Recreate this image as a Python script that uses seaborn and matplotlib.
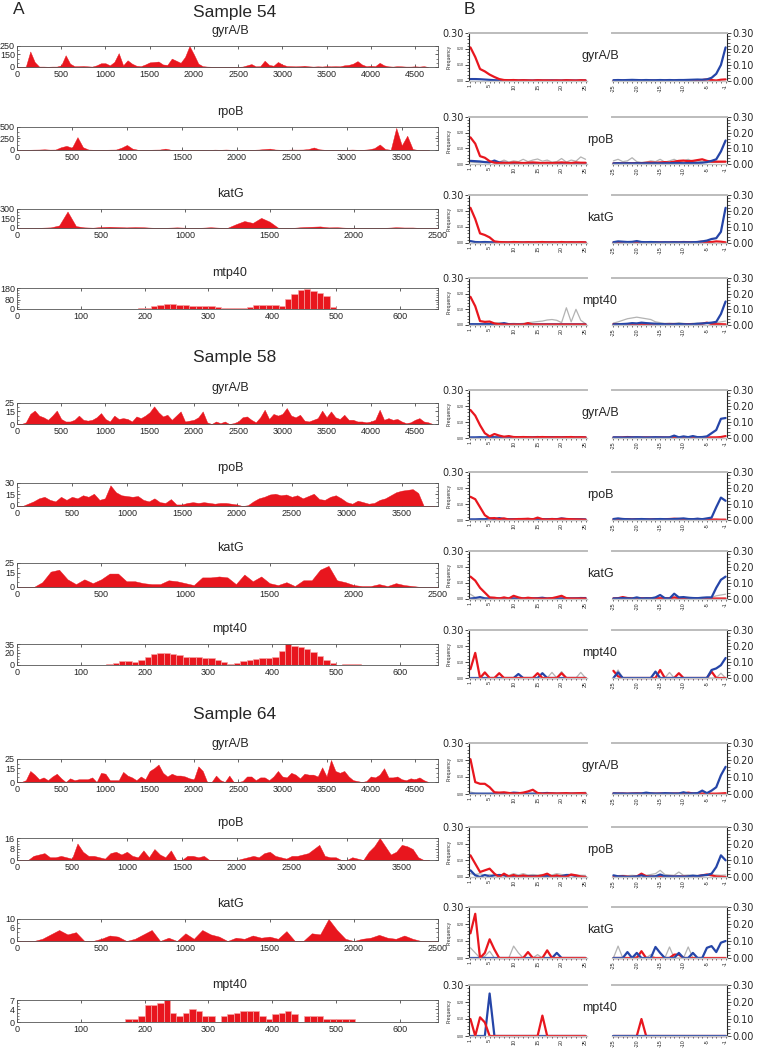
import numpy as np
import pandas as pd
import matplotlib
matplotlib.use('Agg')
import matplotlib.pyplot as plt
from matplotlib.ticker import MultipleLocator
import seaborn as sns

sns.set_style('ticks')
plt.rcParams['font.family'] = ['Liberation Sans', 'DejaVu Sans']

RED = '#e8161e'
BLUE = '#2545a8'
GREY = '#b3b3b3'
W, H = 757, 1050

# ---------------- panel A: read coverage ----------------
# long genes: one value per 50 bp from position 0; mpt40: one bar per 10 bp from *_start
COV_STEP = 50
MPT_STEP = 10

s54_gyr = [0, 0, 5, 185, 60, 5, 5, 3, 5, 5, 20, 140, 40, 10, 10, 12, 8, 5, 20, 45, 45, 20, 60, 165, 20, 80,
           40, 15, 10, 30, 55, 60, 65, 30, 25, 100, 75, 50, 120, 250, 150, 40, 10, 5, 3, 2, 2, 2, 3, 2, 2, 5,
           20, 35, 8, 10, 75, 25, 15, 60, 30, 12, 10, 8, 10, 15, 8, 5, 8, 6, 10, 8, 10, 8, 20, 25, 40, 70, 30,
           10, 15, 10, 50, 20, 8, 5, 10, 8, 5, 5, 8, 5, 10, 0]
s54_rpo = [0, 0, 5, 8, 10, 15, 8, 10, 60, 90, 50, 280, 60, 10, 5, 5, 5, 8, 10, 50, 110, 30, 5, 5, 5, 8, 10,
           30, 5, 5, 3, 3, 5, 5, 5, 3, 8, 5, 10, 5, 3, 3, 5, 5, 10, 20, 30, 10, 5, 5, 10, 8, 10, 20, 55, 15,
           5, 5, 3, 5, 5, 10, 5, 5, 15, 40, 120, 20, 5, 480, 100, 310, 20, 0, 0, 0]
s54_kat = [0, 0, 0, 5, 10, 40, 260, 30, 10, 5, 15, 20, 15, 10, 15, 12, 5, 3, 5, 10, 5, 3, 5, 12, 5, 3, 60,
           110, 80, 160, 100, 5, 3, 5, 15, 20, 25, 10, 12, 5, 3, 3, 3, 3, 5, 12, 8, 8, 0, 0, 0]
s54_mpt_start = 140
s54_mpt = [0, 2, 3, 3, 4, 5, 12, 25, 35, 40, 40, 35, 32, 30, 28, 25, 22, 18, 10, 5, 5, 10, 20, 32, 38, 38,
           32, 30, 90, 130, 160, 175, 155, 135, 110, 20, 0]

s58_gyr = [0, 0, 2, 12, 16, 10, 8, 5, 10, 16, 6, 3, 3, 5, 10, 5, 4, 5, 8, 13, 6, 3, 10, 6, 7, 6, 3, 9, 7, 10,
           14, 21, 14, 9, 11, 5, 10, 15, 3, 4, 5, 8, 15, 2, 0, 3, 1, 3, 0, 1, 3, 8, 9, 5, 2, 8, 17, 6, 12, 10,
           12, 19, 10, 8, 11, 4, 3, 5, 7, 16, 8, 15, 8, 6, 11, 5, 5, 3, 3, 2, 3, 5, 17, 5, 7, 5, 6, 3, 1, 2,
           5, 7, 3, 2, 0]
s58_rpo = [0, 0, 3, 6, 10, 12, 8, 6, 12, 8, 12, 10, 14, 12, 16, 8, 10, 27, 18, 14, 13, 12, 13, 8, 6, 10, 5,
           4, 9, 2, 2, 4, 5, 4, 5, 4, 3, 4, 4, 3, 2, 0, 1, 6, 10, 12, 15, 16, 14, 15, 12, 14, 10, 13, 16, 9,
           8, 12, 14, 10, 5, 3, 7, 5, 3, 4, 8, 10, 14, 18, 20, 21, 22, 17, 0, 0, 0]
s58_kat = [0, 0, 0, 5, 16, 18, 8, 3, 8, 4, 8, 14, 14, 6, 6, 4, 3, 3, 7, 6, 4, 2, 10, 10, 11, 10, 3, 13, 6,
           11, 4, 2, 5, 1, 7, 7, 18, 22, 7, 5, 2, 1, 1, 3, 1, 4, 2, 1, 0, 0, 0]
s58_mpt_start = 130
s58_mpt = [0, 2, 4, 7, 6, 5, 8, 14, 18, 20, 20, 19, 17, 14, 14, 14, 12, 11, 9, 5, 2, 4, 6, 8, 10, 11, 12,
           14, 24, 35, 32, 30, 26, 22, 15, 8, 3, 0, 1, 1, 1, 0]

s64_gyr = [0, 0, 2, 12, 8, 3, 5, 2, 6, 9, 4, 0, 4, 2, 3, 3, 3, 5, 0, 10, 9, 2, 2, 2, 11, 7, 5, 2, 6, 3, 12,
           15, 19, 10, 6, 9, 7, 7, 6, 4, 3, 17, 12, 0, 0, 7, 2, 0, 7, 0, 0, 1, 6, 6, 2, 5, 5, 2, 6, 12, 6, 5,
           10, 8, 4, 9, 8, 8, 6, 16, 6, 24, 12, 10, 12, 6, 2, 1, 0, 1, 6, 5, 8, 15, 5, 5, 6, 3, 2, 4, 3, 5,
           2, 0]
s64_rpo = [0, 0, 0, 3, 4, 5, 2, 2, 3, 2, 1, 12, 6, 3, 3, 2, 1, 5, 6, 4, 6, 3, 2, 7, 2, 8, 4, 2, 7, 0, 0, 3,
           3, 2, 3, 0, 0, 0, 0, 0, 0, 1, 2, 3, 2, 5, 6, 3, 2, 1, 3, 3, 4, 5, 8, 11, 3, 2, 2, 0, 0, 2, 1, 0,
           6, 10, 16, 10, 4, 6, 11, 10, 8, 2, 0, 0]
s64_kat = [0, 0, 0, 1, 3, 5, 3, 4, 0, 0, 1, 2.5, 2, 0, 1, 3, 5, 0, 1.5, 0, 3.5, 1, 5, 3, 2, 0, 1.5, 1, 2.5,
           1.5, 2, 1, 4.5, 0, 0, 3.5, 3, 10, 5, 1, 0, 1, 1.5, 2.8, 1.5, 1, 2.5, 1, 0, 0, 0]
s64_mpt_start = 170
s64_mpt = [1, 1, 2, 5.5, 5.5, 6, 7, 3, 2, 3, 4, 3.5, 2, 2, 0, 2, 2.5, 3, 3.5, 3.5, 3.5, 2, 1, 2.5, 3, 3.5,
           2.5, 0, 1.8, 1.8, 1.8, 1, 1, 1, 1, 1]

# ---------------- panel B: misincorporation frequencies ----------------
# r = red, b = blue, g = grey; 5 = read positions 1..25, 3 = positions -25..-1
POS5 = list(range(1, 26))
POS3 = list(range(-25, 0))

s54_gyr_r5 = [0.21, 0.15, 0.075, 0.06, 0.04, 0.025, 0.012, 0.006, 0.005, 0.006, 0.004, 0.005, 0.004, 0.003,
              0.005, 0.004, 0.004, 0.003, 0.004, 0.003, 0.005, 0.004, 0.003, 0.005, 0.004]
s54_gyr_b5 = [0.012, 0.012, 0.011, 0.009, 0.007, 0.005, 0.004, 0.004, 0.003, 0.004, 0.003, 0.004, 0.003,
              0.003, 0.004, 0.003, 0.003, 0.004, 0.003, 0.003, 0.004, 0.003, 0.003, 0.003, 0.003]
s54_gyr_r3 = [0.002, 0.002, 0.003, 0.002, 0.002, 0.003, 0.002, 0.002, 0.003, 0.002, 0.002, 0.003, 0.002,
              0.003, 0.003, 0.004, 0.003, 0.004, 0.005, 0.006, 0.010, 0.006, 0.003, 0.008, 0.010]
s54_gyr_b3 = [0.005, 0.006, 0.005, 0.006, 0.007, 0.006, 0.005, 0.006, 0.005, 0.005, 0.006, 0.005, 0.006,
              0.005, 0.006, 0.006, 0.007, 0.008, 0.009, 0.008, 0.010, 0.020, 0.045, 0.10, 0.21]

s54_rpo_r5 = [0.17, 0.13, 0.05, 0.04, 0.018, 0.008, 0.006, 0.008, 0.006, 0.01, 0.008, 0.006, 0.008, 0.01,
              0.008, 0.006, 0.008, 0.006, 0.008, 0.01, 0.008, 0.006, 0.01, 0.008, 0.008]
s54_rpo_b5 = [0.02, 0.018, 0.016, 0.012, 0.01, 0.022, 0.01, 0.008, 0.006, 0.006, 0.005, 0.006, 0.005, 0.005,
              0.006, 0.005, 0.006, 0.005, 0.005, 0.006, 0.005, 0.006, 0.005, 0.005, 0.005]
s54_rpo_g5 = [0.012, 0.01, 0.008, 0.012, 0.01, 0.015, 0.012, 0.025, 0.012, 0.02, 0.015, 0.03, 0.015, 0.025,
              0.032, 0.018, 0.025, 0.012, 0.015, 0.035, 0.012, 0.025, 0.018, 0.045, 0.03]
s54_rpo_r3 = [0.004, 0.005, 0.004, 0.006, 0.005, 0.006, 0.005, 0.008, 0.01, 0.008, 0.01, 0.012, 0.01, 0.015,
              0.02, 0.022, 0.018, 0.02, 0.025, 0.03, 0.02, 0.015, 0.015, 0.015, 0.015]
s54_rpo_b3 = [0.004, 0.005, 0.004, 0.005, 0.004, 0.005, 0.004, 0.005, 0.004, 0.005, 0.004, 0.005, 0.005,
              0.006, 0.006, 0.005, 0.006, 0.006, 0.007, 0.008, 0.012, 0.02, 0.03, 0.08, 0.15]
s54_rpo_g3 = [0.02, 0.03, 0.015, 0.02, 0.04, 0.015, 0.01, 0.012, 0.02, 0.015, 0.03, 0.012, 0.02, 0.03, 0.015,
              0.02, 0.03, 0.015, 0.02, 0.015, 0.012, 0.01, 0.01, 0.012, 0.015]

s54_kat_r5 = [0.22, 0.15, 0.06, 0.05, 0.035, 0.01, 0.006, 0.005, 0.004, 0.006, 0.005, 0.004, 0.005, 0.004,
              0.005, 0.006, 0.004, 0.005, 0.004, 0.006, 0.004, 0.005, 0.004, 0.005, 0.004]
s54_kat_b5 = [0.012, 0.006, 0.005, 0.006, 0.005, 0.004, 0.004, 0.003, 0.003, 0.004, 0.003, 0.003, 0.004,
              0.003, 0.003, 0.003, 0.004, 0.003, 0.003, 0.003, 0.003, 0.003, 0.003, 0.003, 0.003]
s54_kat_r3 = [0.003, 0.003, 0.004, 0.003, 0.004, 0.005, 0.004, 0.003, 0.004, 0.005, 0.004, 0.003, 0.004,
              0.005, 0.004, 0.006, 0.005, 0.004, 0.006, 0.008, 0.005, 0.006, 0.01, 0.008, 0.004]
s54_kat_b3 = [0.005, 0.01, 0.008, 0.006, 0.007, 0.012, 0.006, 0.005, 0.006, 0.005, 0.004, 0.005, 0.004,
              0.005, 0.004, 0.005, 0.004, 0.005, 0.006, 0.01, 0.015, 0.025, 0.03, 0.07, 0.22]

s54_mpt_r5 = [0.18, 0.12, 0.025, 0.02, 0.022, 0.01, 0.005, 0.003, 0.003, 0.003, 0.003, 0.003, 0.012, 0.003,
              0.003, 0.003, 0.003, 0.003, 0.003, 0.003, 0.003, 0.003, 0.003, 0.003, 0.003]
s54_mpt_b5 = [0.005, 0.005, 0.005, 0.005, 0.006, 0.005, 0.006, 0.012, 0.005, 0.004, 0.004, 0.004, 0.004,
              0.004, 0.004, 0.004, 0.004, 0.004, 0.004, 0.004, 0.004, 0.004, 0.004, 0.004, 0.004]
s54_mpt_g5 = [0.008, 0.006, 0.008, 0.01, 0.008, 0.012, 0.015, 0.01, 0.008, 0.01, 0.008, 0.01, 0.015, 0.018,
              0.022, 0.025, 0.032, 0.035, 0.03, 0.015, 0.11, 0.02, 0.1, 0.03, 0.008]
s54_mpt_r3 = [0.006, 0.005, 0.006, 0.005, 0.004, 0.006, 0.005, 0.004, 0.005, 0.006, 0.005, 0.004, 0.005,
              0.006, 0.005, 0.004, 0.005, 0.006, 0.005, 0.008, 0.015, 0.006, 0.005, 0.005, 0.004]
s54_mpt_b3 = [0.004, 0.005, 0.006, 0.008, 0.012, 0.01, 0.015, 0.012, 0.01, 0.008, 0.006, 0.005, 0.004,
              0.005, 0.006, 0.005, 0.004, 0.005, 0.008, 0.01, 0.012, 0.015, 0.02, 0.07, 0.15]
s54_mpt_g3 = [0.012, 0.02, 0.03, 0.04, 0.045, 0.05, 0.045, 0.04, 0.035, 0.02, 0.015, 0.01, 0.012, 0.01,
              0.015, 0.01, 0.008, 0.01, 0.012, 0.008, 0.01, 0.012, 0.015, 0.02, 0.025]

s58_gyr_r5 = [0.175, 0.14, 0.08, 0.03, 0.01, 0.025, 0.015, 0.008, 0.012, 0.006, 0.005, 0.006, 0.005, 0.004,
              0.005, 0.006, 0.005, 0.004, 0.005, 0.004, 0.005, 0.006, 0.004, 0.005, 0.004]
s58_gyr_b5 = [0.004, 0.004, 0.005, 0.004, 0.006, 0.005, 0.004, 0.005, 0.004, 0.005, 0.004, 0.005, 0.004,
              0.004, 0.006, 0.004, 0.004, 0.005, 0.004, 0.004, 0.005, 0.004, 0.004, 0.004, 0.004]
s58_gyr_r3 = [0.003, 0.003, 0.004, 0.006, 0.004, 0.003, 0.003, 0.004, 0.003, 0.003, 0.004, 0.003, 0.003,
              0.004, 0.003, 0.003, 0.004, 0.003, 0.004, 0.003, 0.003, 0.004, 0.004, 0.006, 0.012]
s58_gyr_b3 = [0.004, 0.004, 0.003, 0.004, 0.004, 0.005, 0.004, 0.003, 0.004, 0.005, 0.004, 0.004, 0.004,
              0.015, 0.004, 0.01, 0.005, 0.012, 0.005, 0.006, 0.01, 0.03, 0.05, 0.12, 0.125]

s58_rpo_r5 = [0.145, 0.13, 0.08, 0.03, 0.01, 0.012, 0.006, 0.01, 0.003, 0.004, 0.006, 0.006, 0.008, 0.004,
              0.015, 0.005, 0.003, 0.006, 0.004, 0.008, 0.006, 0.005, 0.004, 0.003, 0.002]
s58_rpo_b5 = [0.004, 0.004, 0.005, 0.005, 0.01, 0.006, 0.012, 0.006, 0.005, 0.005, 0.005, 0.006, 0.005,
              0.005, 0.006, 0.005, 0.005, 0.006, 0.005, 0.01, 0.006, 0.005, 0.005, 0.005, 0.004]
s58_rpo_r3 = [0.004, 0.005, 0.006, 0.005, 0.004, 0.005, 0.004, 0.003, 0.004, 0.005, 0.004, 0.005, 0.006,
              0.008, 0.006, 0.005, 0.004, 0.005, 0.006, 0.005, 0.004, 0.003, 0.003, 0.002, 0.002]
s58_rpo_b3 = [0.006, 0.01, 0.006, 0.005, 0.004, 0.005, 0.006, 0.005, 0.004, 0.005, 0.006, 0.005, 0.005,
              0.006, 0.008, 0.01, 0.006, 0.005, 0.008, 0.005, 0.01, 0.015, 0.08, 0.14, 0.12]

s58_kat_r5 = [0.14, 0.115, 0.07, 0.04, 0.01, 0.008, 0.003, 0.01, 0.003, 0.02, 0.01, 0.003, 0.008, 0.004,
              0.003, 0.002, 0.003, 0.005, 0.012, 0.02, 0.005, 0.003, 0.003, 0.003, 0.003]
s58_kat_b5 = [0.003, 0.006, 0.012, 0.004, 0.003, 0.005, 0.004, 0.004, 0.003, 0.004, 0.003, 0.004, 0.003,
              0.004, 0.005, 0.008, 0.003, 0.004, 0.003, 0.004, 0.003, 0.004, 0.004, 0.005, 0.006]
s58_kat_g5 = [0.03, 0.01, 0.006, 0.005, 0.004, 0.005, 0.004, 0.004, 0.003, 0.004, 0.004, 0.003, 0.004,
              0.004, 0.003, 0.004, 0.004, 0.003, 0.004, 0.004, 0.003, 0.004, 0.006, 0.01, 0.008]
s58_kat_r3 = [0.004, 0.005, 0.012, 0.006, 0.004, 0.003, 0.005, 0.004, 0.005, 0.004, 0.005, 0.004, 0.005,
              0.01, 0.006, 0.005, 0.004, 0.005, 0.004, 0.003, 0.004, 0.003, 0.003, 0.003, 0.003]
s58_kat_b3 = [0.003, 0.004, 0.006, 0.004, 0.003, 0.01, 0.003, 0.005, 0.004, 0.01, 0.025, 0.005, 0.003,
              0.033, 0.01, 0.012, 0.008, 0.006, 0.005, 0.008, 0.01, 0.01, 0.07, 0.12, 0.14]
s58_kat_g3 = [0.004, 0.005, 0.004, 0.005, 0.004, 0.005, 0.004, 0.005, 0.004, 0.005, 0.004, 0.005, 0.004,
              0.006, 0.005, 0.008, 0.01, 0.006, 0.005, 0.006, 0.008, 0.01, 0.02, 0.025, 0.03]

s58_mpt_r5 = [0.055, 0.157, 0.0, 0.035, 0.0, 0.0, 0.03, 0.0, 0.0, 0.0, 0.0, 0.0, 0.0, 0.0, 0.03, 0.0, 0.0,
              0.0, 0.0, 0.03, 0.0, 0.0, 0.0, 0.0, 0.0]
s58_mpt_b5 = [0.0, 0.0, 0.0, 0.0, 0.0, 0.0, 0.0, 0.0, 0.0, 0.0, 0.025, 0.0, 0.0, 0.0, 0.0, 0.03, 0.0, 0.0,
              0.0, 0.0, 0.0, 0.0, 0.0, 0.0, 0.0]
s58_mpt_g5 = [0.0, 0.0, 0.0, 0.03, 0.0, 0.0, 0.0, 0.0, 0.0, 0.0, 0.0, 0.0, 0.0, 0.0, 0.0, 0.0, 0.0, 0.035,
              0.0, 0.04, 0.0, 0.0, 0.0, 0.035, 0.0]
s58_mpt_r3 = [0.045, 0.01, 0.0, 0.0, 0.0, 0.0, 0.0, 0.0, 0.0, 0.0, 0.05, 0.0, 0.0, 0.0, 0.03, 0.0, 0.0, 0.0,
              0.0, 0.0, 0.0, 0.04, 0.0, 0.0, 0.0]
s58_mpt_b3 = [0.0, 0.035, 0.0, 0.0, 0.0, 0.0, 0.0, 0.0, 0.0, 0.04, 0.0, 0.0, 0.0, 0.0, 0.0, 0.0, 0.0, 0.0,
              0.0, 0.0, 0.0, 0.05, 0.06, 0.08, 0.125]
s58_mpt_g3 = [0.0, 0.05, 0.0, 0.0, 0.0, 0.0, 0.0, 0.0, 0.0, 0.0, 0.0, 0.0, 0.035, 0.0, 0.0, 0.0, 0.0, 0.0,
              0.0, 0.0, 0.0, 0.0, 0.0, 0.03, 0.0]

s64_gyr_r5 = [0.205, 0.07, 0.06, 0.06, 0.04, 0.01, 0.008, 0.01, 0.006, 0.003, 0.004, 0.008, 0.015, 0.025,
              0.006, 0.002, 0.003, 0.004, 0.003, 0.004, 0.005, 0.003, 0.004, 0.005, 0.004]
s64_gyr_b5 = [0.002, 0.002, 0.002, 0.002, 0.002, 0.002, 0.003, 0.003, 0.004, 0.008, 0.006, 0.003, 0.002,
              0.002, 0.003, 0.004, 0.006, 0.003, 0.002, 0.002, 0.002, 0.002, 0.002, 0.002, 0.002]
s64_gyr_g5 = [0.012, 0.004, 0.003, 0.003, 0.003, 0.003, 0.003, 0.003, 0.003, 0.004, 0.003, 0.003, 0.003,
              0.003, 0.003, 0.003, 0.003, 0.003, 0.003, 0.003, 0.003, 0.004, 0.005, 0.008, 0.01]
s64_gyr_r3 = [0.003, 0.003, 0.003, 0.002, 0.003, 0.004, 0.003, 0.002, 0.003, 0.002, 0.003, 0.003, 0.002,
              0.003, 0.003, 0.003, 0.008, 0.003, 0.002, 0.003, 0.003, 0.002, 0.002, 0.003, 0.005]
s64_gyr_b3 = [0.004, 0.003, 0.003, 0.002, 0.003, 0.003, 0.003, 0.008, 0.004, 0.003, 0.003, 0.005, 0.004,
              0.003, 0.003, 0.01, 0.003, 0.004, 0.005, 0.02, 0.005, 0.02, 0.04, 0.11, 0.16]

s64_rpo_r5 = [0.13, 0.08, 0.03, 0.04, 0.05, 0.02, 0.0, 0.02, 0.003, 0.012, 0.002, 0.01, 0.003, 0.002, 0.004,
              0.01, 0.02, 0.003, 0.01, 0.002, 0.001, 0.015, 0.01, 0.003, 0.0]
s64_rpo_b5 = [0.04, 0.01, 0.0, 0.012, 0.003, 0.01, 0.012, 0.01, 0.0, 0.003, 0.005, 0.005, 0.005, 0.005,
              0.005, 0.005, 0.005, 0.005, 0.005, 0.005, 0.012, 0.012, 0.005, 0.0, 0.0]
s64_rpo_g5 = [0.02, 0.015, 0.02, 0.01, 0.015, 0.01, 0.012, 0.015, 0.01, 0.02, 0.012, 0.02, 0.012, 0.015,
              0.012, 0.015, 0.01, 0.012, 0.02, 0.015, 0.012, 0.01, 0.012, 0.01, 0.01]
s64_rpo_r3 = [0.0, 0.002, 0.005, 0.002, 0.0, 0.003, 0.02, 0.005, 0.003, 0.002, 0.003, 0.002, 0.003, 0.002,
              0.003, 0.003, 0.002, 0.003, 0.005, 0.01, 0.015, 0.01, 0.003, 0.002, 0.0]
s64_rpo_b3 = [0.01, 0.004, 0.003, 0.0, 0.002, 0.003, 0.01, 0.0, 0.003, 0.004, 0.015, 0.005, 0.004, 0.003,
              0.004, 0.002, 0.004, 0.008, 0.005, 0.01, 0.012, 0.02, 0.06, 0.13, 0.1]
s64_rpo_g3 = [0.005, 0.008, 0.01, 0.008, 0.01, 0.008, 0.012, 0.01, 0.015, 0.02, 0.04, 0.015, 0.012, 0.01,
              0.03, 0.01, 0.012, 0.01, 0.01, 0.008, 0.01, 0.01, 0.012, 0.01, 0.012]

s64_kat_r5 = [0.145, 0.26, 0.0, 0.03, 0.11, 0.05, 0.0, 0.0, 0.0, 0.0, 0.0, 0.0, 0.035, 0.0, 0.0, 0.0, 0.045,
              0.0, 0.0, 0.0, 0.0, 0.0, 0.0, 0.0, 0.0]
s64_kat_b5 = [0.0, 0.0, 0.0, 0.0, 0.0, 0.0, 0.0, 0.0, 0.0, 0.0, 0.0, 0.0, 0.0, 0.0, 0.0, 0.0, 0.0, 0.0,
              0.03, 0.0, 0.0, 0.0, 0.0, 0.0, 0.0]
s64_kat_g5 = [0.06, 0.03, 0.0, 0.01, 0.04, 0.0, 0.0, 0.0, 0.0, 0.07, 0.03, 0.0, 0.0, 0.0, 0.02, 0.0, 0.0,
              0.0, 0.0, 0.0, 0.0, 0.0, 0.0, 0.0, 0.0]
s64_kat_r3 = [0.0, 0.0, 0.0, 0.0, 0.0, 0.0, 0.04, 0.0, 0.0, 0.0, 0.0, 0.0, 0.0, 0.02, 0.02, 0.0, 0.0, 0.0,
              0.0, 0.0, 0.0, 0.0, 0.0, 0.0, 0.0]
s64_kat_b3 = [0.0, 0.0, 0.0, 0.035, 0.0, 0.03, 0.0, 0.0, 0.0, 0.065, 0.03, 0.0, 0.0, 0.0, 0.03, 0.0, 0.0,
              0.03, 0.0, 0.0, 0.06, 0.07, 0.035, 0.09, 0.1]
s64_kat_g3 = [0.0, 0.07, 0.0, 0.0, 0.0, 0.01, 0.0, 0.0, 0.02, 0.0, 0.0, 0.0, 0.065, 0.0, 0.0, 0.0, 0.065,
              0.0, 0.0, 0.0, 0.0, 0.0, 0.0, 0.0, 0.0]

s64_mpt_r5 = [0.1, 0.0, 0.11, 0.08, 0.0, 0.0, 0.0, 0.0, 0.0, 0.0, 0.0, 0.0, 0.0, 0.0, 0.0, 0.12, 0.0, 0.0,
              0.0, 0.0, 0.0, 0.0, 0.0, 0.0, 0.0]
s64_mpt_b5 = [0.0, 0.0, 0.0, 0.0, 0.25, 0.0, 0.0, 0.0, 0.0, 0.0, 0.0, 0.0, 0.0, 0.0, 0.0, 0.0, 0.0, 0.0,
              0.0, 0.0, 0.0, 0.0, 0.0, 0.0, 0.0]
s64_mpt_r3 = [0.0, 0.0, 0.0, 0.0, 0.0, 0.0, 0.1, 0.0, 0.0, 0.0, 0.0, 0.0, 0.0, 0.0, 0.0, 0.0, 0.0, 0.0,
              0.0, 0.0, 0.0, 0.0, 0.0, 0.0, 0.0]
s64_mpt_b3 = [0.0, 0.0, 0.0, 0.0, 0.0, 0.0, 0.0, 0.0, 0.0, 0.0, 0.0, 0.0, 0.0, 0.0, 0.0, 0.0, 0.0, 0.0,
              0.0, 0.0, 0.0, 0.0, 0.0, 0.0, 0.0]

samples = ['Sample 54', 'Sample 58', 'Sample 64']
left_genes = [['gyrA/B', 'rpoB', 'katG', 'mtp40'], ['gyrA/B', 'rpoB', 'katG', 'mpt40'],
              ['gyrA/B', 'rpoB', 'katG', 'mpt40']]
right_genes = ['gyrA/B', 'rpoB', 'katG', 'mpt40']

coverage = [[s54_gyr, s54_rpo, s54_kat, s54_mpt],
            [s58_gyr, s58_rpo, s58_kat, s58_mpt],
            [s64_gyr, s64_rpo, s64_kat, s64_mpt]]
mpt_starts = [s54_mpt_start, s58_mpt_start, s64_mpt_start]
gene_xmax = [4760, 3830, 2500, 660]
gene_xmajor = [500, 500, 500, 100]
cov_yticks = [[[0, 150, 250], [0, 250, 500], [0, 150, 300], [0, 80, 180]],
              [[0, 15, 25], [0, 15, 30], [0, 15, 25], [0, 20, 35]],
              [[0, 15, 25], [0, 8, 16], [0, 6, 10], [0, 4, 7]]]
cov_yminor = [[50, 100, 50, 20], [5, 5, 5, 5], [5, 2, 2, 1]]

freqs = [
    [(s54_gyr_r5, s54_gyr_b5, None, s54_gyr_r3, s54_gyr_b3, None),
     (s54_rpo_r5, s54_rpo_b5, s54_rpo_g5, s54_rpo_r3, s54_rpo_b3, s54_rpo_g3),
     (s54_kat_r5, s54_kat_b5, None, s54_kat_r3, s54_kat_b3, None),
     (s54_mpt_r5, s54_mpt_b5, s54_mpt_g5, s54_mpt_r3, s54_mpt_b3, s54_mpt_g3)],
    [(s58_gyr_r5, s58_gyr_b5, None, s58_gyr_r3, s58_gyr_b3, None),
     (s58_rpo_r5, s58_rpo_b5, None, s58_rpo_r3, s58_rpo_b3, None),
     (s58_kat_r5, s58_kat_b5, s58_kat_g5, s58_kat_r3, s58_kat_b3, s58_kat_g3),
     (s58_mpt_r5, s58_mpt_b5, s58_mpt_g5, s58_mpt_r3, s58_mpt_b3, s58_mpt_g3)],
    [(s64_gyr_r5, s64_gyr_b5, s64_gyr_g5, s64_gyr_r3, s64_gyr_b3, None),
     (s64_rpo_r5, s64_rpo_b5, s64_rpo_g5, s64_rpo_r3, s64_rpo_b3, s64_rpo_g3),
     (s64_kat_r5, s64_kat_b5, s64_kat_g5, s64_kat_r3, s64_kat_b3, s64_kat_g3),
     (s64_mpt_r5, s64_mpt_b5, None, s64_mpt_r3, s64_mpt_b3, None)],
]

# layout (pixel rows of each panel box)
sample_y = [12, 357, 715]
left_tops = [[46, 127, 209, 288], [403, 483, 563, 644], [759, 838, 919, 1000]]
left_bots = [[67, 150, 228, 309], [424, 506, 587, 665], [782, 860, 941, 1022]]
right_tops = [[33, 117, 195, 278], [390, 472, 551, 630], [743, 827, 907, 985]]
right_bots = [[81, 164, 243, 325], [438, 520, 599, 678], [794, 877, 958, 1036]]

fig = plt.figure(figsize=(W / 100, H / 100), dpi=100)


def box(left, top, width, height):
    return [left / W, 1 - (top + height) / H, width / W, height / H]


def draw_coverage(top, bot, cov, start, step, xmax, xmajor, yticks, yminor, bars):
    ax = fig.add_axes(box(17, top, 421, bot - top))
    pos = start + step * np.arange(len(cov))
    if bars:
        df = pd.DataFrame({'pos': pos, 'cov': cov})
        sns.histplot(data=df, x='pos', weights='cov', binwidth=step,
                     binrange=(pos[0], pos[-1] + step), color=RED, edgecolor='#f7a6a6',
                     linewidth=0.45, alpha=1, ax=ax)
    else:
        ax.fill_between(pos, cov, color=RED, linewidth=0.3, edgecolor=RED)
    ax.set_xlim(0, xmax)
    ax.set_ylim(0, yticks[-1])
    ax.set_xticks(np.arange(0, xmax + 1, xmajor))
    ax.set_yticks(yticks)
    ax.yaxis.set_minor_locator(MultipleLocator(yminor))
    ax.tick_params(direction='in', top=True, right=True, labelsize=6.5, length=2.5, width=0.5, pad=2)
    ax.tick_params(axis='y', which='minor', direction='in', left=True, right=True, length=1.6, width=0.4)
    ax.tick_params(axis='y', pad=1.5)
    ax.set_xlabel('')
    ax.set_ylabel('')
    for s in ax.spines.values():
        s.set_linewidth(0.6)
        s.set_color('#555555')


def draw_freq(top, bot, r5, b5, g5, r3, b3, g3):
    h = bot - top
    ax5 = fig.add_axes(box(469, top, 118, h))
    ax3 = fig.add_axes(box(612, top, 115, h))
    layers5 = [(g5, GREY, 0.9), (b5, BLUE, 1.6), (r5, RED, 1.6)]
    layers3 = [(g3, GREY, 0.9), (r3, RED, 1.6), (b3, BLUE, 1.6)]
    for ax, xs, layers in ((ax5, POS5, layers5), (ax3, POS3, layers3)):
        for vals, col, lw in layers:
            if vals is not None:
                sns.lineplot(x=xs, y=vals, color=col, linewidth=lw, ax=ax, clip_on=False)
        ax.set_ylim(0, 0.30)
        ax.set_yticks([0, 0.1, 0.2, 0.3])
        ax.yaxis.set_minor_locator(MultipleLocator(0.02))
        ax.spines['top'].set_color('#bcbcbc')
        ax.spines['top'].set_linewidth(1.4)
        ax.spines['bottom'].set_color('#c4c4c4')
        ax.spines['bottom'].set_linewidth(1.0)
        ax.tick_params(axis='x', length=1.5, width=0.5, labelsize=3.8, labelrotation=90, pad=1)
        ax.tick_params(axis='y', which='major', length=3, width=0.6)
        ax.tick_params(axis='y', which='minor', length=1.8, width=0.5)
        ax.set_xlabel('')
        ax.set_ylabel('')
    ax5.set_xlim(0.7, 25.3)
    ax5.set_xticks(POS5)
    ax5.set_xticklabels([str(p) if p in (1, 5, 10, 15, 20, 25) else '' for p in POS5])
    ax5.spines['right'].set_visible(False)
    ax5.spines['left'].set_linewidth(0.8)
    ax5.set_yticklabels(['0.00', '0.10', '0.20', '0.30'], fontsize=2.5)
    lab = ax5.get_yticklabels()[-1]
    lab.set_fontsize(7)
    lab.set_family('DejaVu Sans')
    ax5.tick_params(axis='y', pad=1)
    ax5.set_ylabel('Frequency', fontsize=3.6)
    ax5.yaxis.set_label_coords(-0.15, 0.5)

    ax3.set_xlim(-25.3, -0.7)
    ax3.set_xticks(POS3)
    ax3.set_xticklabels([str(p) if p in (-25, -20, -15, -10, -5, -1) else '' for p in POS3])
    ax3.spines['left'].set_visible(False)
    ax3.spines['right'].set_linewidth(0.8)
    ax3.yaxis.tick_right()
    ax3.set_yticklabels(['0.00', '0.10', '0.20', '0.30'], fontsize=7, family='DejaVu Sans')
    ax3.tick_params(axis='y', which='both', pad=1)


for si in range(3):
    fig.text(235 / W, 1 - sample_y[si] / H, samples[si], ha='center', va='center', fontsize=12.5)
    for gi in range(4):
        top, bot = left_tops[si][gi], left_bots[si][gi]
        fig.text(230 / W, 1 - (top - 15) / H, left_genes[si][gi], ha='center', va='center', fontsize=9)
        bars = gi == 3
        draw_coverage(top, bot, coverage[si][gi], mpt_starts[si] if bars else 0,
                      MPT_STEP if bars else COV_STEP, gene_xmax[gi], gene_xmajor[gi],
                      cov_yticks[si][gi], cov_yminor[si][gi], bars)
        rt, rb = right_tops[si][gi], right_bots[si][gi]
        draw_freq(rt, rb, *freqs[si][gi])
        fig.text(600 / W, 1 - (rt + 23) / H, right_genes[gi], ha='center', va='center', fontsize=9)

fig.text(13 / W, 1 - 9 / H, 'A', fontsize=12.5, va='center')
fig.text(464 / W, 1 - 9 / H, 'B', fontsize=12.5, va='center')

fig.savefig('out.png', dpi=100)
